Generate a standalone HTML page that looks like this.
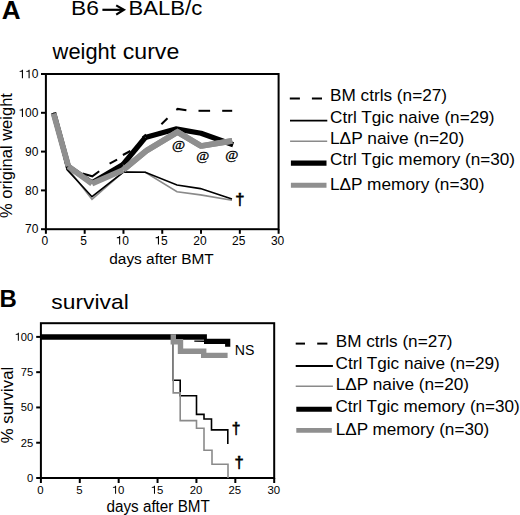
<!DOCTYPE html>
<html><head><meta charset="utf-8">
<style>
html,body{margin:0;padding:0;background:#fff;}
body{width:520px;height:515px;position:relative;overflow:hidden;}
svg{position:absolute;left:0;top:0;}
text{font-family:"Liberation Sans",sans-serif;fill:#000;}
</style></head><body>
<svg width="520" height="515" viewBox="0 0 520 515">
<text x="1.65" y="19.20" font-size="25.5" font-weight="bold" textLength="18.84" lengthAdjust="spacingAndGlyphs">A</text>
<text x="71.13" y="15.25" font-size="20.6" textLength="27.87" lengthAdjust="spacingAndGlyphs">B6</text>
<g stroke="#000" stroke-width="2.2" fill="none"><line x1="102.4" y1="9.8" x2="123.3" y2="9.8"/><polyline points="116.2,5.4 123.9,9.8 116.2,14.6"/></g>
<text x="128.59" y="15.00" font-size="20.6" textLength="73.70" lengthAdjust="spacingAndGlyphs">BALB/c</text>
<text x="52.63" y="59.10" font-size="21.6" textLength="63.13" lengthAdjust="spacingAndGlyphs">weight</text>
<text x="122.82" y="59.10" font-size="21.6" textLength="56.40" lengthAdjust="spacingAndGlyphs">curve</text>
<g stroke="#000" stroke-width="2" fill="none"><rect x="45.9" y="74.0" width="232.70" height="155.20"/><line x1="41" y1="74.00" x2="45.9" y2="74.00"/><line x1="41" y1="112.80" x2="45.9" y2="112.80"/><line x1="41" y1="151.60" x2="45.9" y2="151.60"/><line x1="41" y1="190.40" x2="45.9" y2="190.40"/><line x1="41" y1="229.20" x2="45.9" y2="229.20"/><line x1="45.90" y1="229.2" x2="45.90" y2="233.8"/><line x1="84.68" y1="229.2" x2="84.68" y2="233.8"/><line x1="123.47" y1="229.2" x2="123.47" y2="233.8"/><line x1="162.25" y1="229.2" x2="162.25" y2="233.8"/><line x1="201.03" y1="229.2" x2="201.03" y2="233.8"/><line x1="239.82" y1="229.2" x2="239.82" y2="233.8"/><line x1="278.60" y1="229.2" x2="278.60" y2="233.8"/></g>
<polygon points="22.97,78.15 22.97,69.71 22.13,69.71 21.83,70.29 21.29,70.77 19.61,71.01 19.61,71.79 21.89,71.79 21.89,78.15"/><polygon points="29.64,78.15 29.64,69.71 28.80,69.71 28.50,70.29 27.96,70.77 26.28,71.01 26.28,71.79 28.56,71.79 28.56,78.15"/><text x="31.69" y="78.15" font-size="12">0</text>
<polygon points="22.97,116.95 22.97,108.51 22.13,108.51 21.83,109.09 21.29,109.57 19.61,109.81 19.61,110.59 21.89,110.59 21.89,116.95"/><text x="25.02" y="116.95" font-size="12">0</text><text x="31.69" y="116.95" font-size="12">0</text>
<text x="25.02" y="155.75" font-size="12">9</text><text x="31.69" y="155.75" font-size="12">0</text>
<text x="25.02" y="194.55" font-size="12">8</text><text x="31.69" y="194.55" font-size="12">0</text>
<text x="25.02" y="233.35" font-size="12">7</text><text x="31.69" y="233.35" font-size="12">0</text>
<text x="41.56" y="244.50" font-size="12">0</text>
<text x="80.36" y="244.50" font-size="12">5</text>
<polygon points="120.19,244.50 120.19,236.06 119.35,236.06 119.05,236.64 118.51,237.12 116.83,237.36 116.83,238.14 119.11,238.14 119.11,244.50"/><text x="122.24" y="244.50" font-size="12">0</text>
<polygon points="158.99,244.50 158.99,236.06 158.15,236.06 157.85,236.64 157.31,237.12 155.63,237.36 155.63,238.14 157.91,238.14 157.91,244.50"/><text x="161.04" y="244.50" font-size="12">5</text>
<text x="193.29" y="244.50" font-size="12">2</text><text x="199.97" y="244.50" font-size="12">0</text>
<text x="232.09" y="244.50" font-size="12">2</text><text x="238.77" y="244.50" font-size="12">5</text>
<text x="270.93" y="244.50" font-size="12">3</text><text x="277.61" y="244.50" font-size="12">0</text>
<text x="109.25" y="263.90" font-size="15.5" textLength="104.50" lengthAdjust="spacingAndGlyphs">days after BMT</text>
<text transform="translate(12.20,217.89) rotate(-90)" font-size="16.3" textLength="124.81" lengthAdjust="spacingAndGlyphs">% original weight</text>
<g fill="none" stroke-linejoin="miter" stroke-linecap="butt">
<polyline stroke="#8a8a8a" stroke-width="1.6" points="53.6,112.8 67.5,168 92,199.4 123.4,172 145.3,172.3 177,191.7 200.5,194.9 232,200.2"/>
<polyline stroke="#000" stroke-width="1.6" points="53.6,112.8 67,169.5 92,196.7 123.4,172 145.3,172.3 177,185 200.5,188.6 232,199.1"/>
<g stroke="#000" stroke-width="2">
<polyline points="82.5,173.5 92.3,176.3 99.2,171.2"/>
<line x1="109.6" y1="163.7" x2="117.1" y2="159.6"/>
<line x1="122.9" y1="155" x2="130.4" y2="151"/>
<line x1="142.5" y1="137.5" x2="146" y2="134.5"/>
<line x1="161.4" y1="124.2" x2="167.5" y2="118.2"/>
<polyline points="176.3,109.8 177.7,108.9 186.4,110.2"/>
<line x1="198.5" y1="110.8" x2="210.1" y2="110.8"/>
<line x1="222.2" y1="110.8" x2="232.2" y2="110.8"/>
</g>
<g stroke="#000" stroke-width="5.2" stroke-linecap="butt"><line x1="53.6" y1="112.8" x2="68.4" y2="166.6"/><line x1="68.4" y1="166.6" x2="92" y2="182.8"/><line x1="92" y1="182.8" x2="123" y2="164.5"/><line x1="123" y1="164.5" x2="145.3" y2="137.5"/></g>
<polyline fill="none" stroke="#000" stroke-width="5.2" stroke-linejoin="round" points="145.3,137.5 175.8,128.9 201,133.2 233.2,144.8"/>
<g stroke="#8f8f8f" stroke-width="5.8" stroke-linecap="butt"><line x1="53.6" y1="113.5" x2="68.3" y2="166.3"/><line x1="68.3" y1="166.3" x2="92" y2="183.6"/><line x1="92" y1="183.6" x2="123.4" y2="169.8"/><line x1="123.4" y1="169.8" x2="146.3" y2="150.8"/><line x1="146.3" y1="150.8" x2="177.5" y2="131.9"/><line x1="177.5" y1="131.9" x2="201" y2="146"/><line x1="201" y1="146" x2="232.2" y2="140.8"/></g>
<polyline fill="none" stroke="#8f8f8f" stroke-width="5.8" stroke-linejoin="miter" points="123.4,169.8 146.3,150.8 177.5,131.9 201,146 232.2,140.8"/>
</g>
<text transform="translate(171.95,149.39) scale(1,0.927)" font-size="14.23" style="font-family:'Liberation Serif',serif" stroke="#000" stroke-width="0.35">@</text>
<text transform="translate(196.15,159.79) scale(1,0.936)" font-size="14.11" style="font-family:'Liberation Serif',serif" stroke="#000" stroke-width="0.35">@</text>
<text transform="translate(225.35,158.76) scale(1,0.903)" font-size="14.23" style="font-family:'Liberation Serif',serif" stroke="#000" stroke-width="0.35">@</text>
<text x="235.38" y="204.50" font-size="16.5" textLength="9.23" lengthAdjust="spacingAndGlyphs" stroke="#000" stroke-width="0.6">†</text>
<g fill="none">
<line x1="289.8" y1="98.5" x2="299.9" y2="98.5" stroke="#000" stroke-width="2"/>
<line x1="311.9" y1="98.5" x2="322" y2="98.5" stroke="#000" stroke-width="2"/>
<line x1="290" y1="120.6" x2="327.3" y2="120.6" stroke="#000" stroke-width="1.8"/>
<line x1="290.1" y1="141.2" x2="327.2" y2="141.2" stroke="#8a8a8a" stroke-width="1.6"/>
<line x1="290.9" y1="163.1" x2="326.5" y2="163.1" stroke="#000" stroke-width="5.4"/>
<line x1="290.9" y1="185.3" x2="326.5" y2="185.3" stroke="#8f8f8f" stroke-width="5"/>
</g>
<text x="329.99" y="101.00" font-size="16.4" textLength="117.08" lengthAdjust="spacingAndGlyphs">BM ctrls (n=27)</text>
<text x="330.13" y="123.30" font-size="16.4" textLength="164.43" lengthAdjust="spacingAndGlyphs">Ctrl Tgic naive (n=29)</text>
<text x="329.98" y="143.80" font-size="16.4" textLength="134.19" lengthAdjust="spacingAndGlyphs">LΔP naive (n=20)</text>
<text x="330.13" y="165.00" font-size="16.4" textLength="184.93" lengthAdjust="spacingAndGlyphs">Ctrl Tgic memory (n=30)</text>
<text x="329.99" y="189.70" font-size="16.4" textLength="154.48" lengthAdjust="spacingAndGlyphs">LΔP memory (n=30)</text>
<text x="-0.40" y="307.30" font-size="24.5" font-weight="bold" textLength="17.29" lengthAdjust="spacingAndGlyphs">B</text>
<text x="51.36" y="309.30" font-size="21" textLength="77.36" lengthAdjust="spacingAndGlyphs">survival</text>
<g stroke="#000" stroke-width="2" fill="none"><rect x="40.9" y="323.2" width="233.30" height="154.80"/><line x1="36.2" y1="336.90" x2="40.9" y2="336.90"/><line x1="36.2" y1="372.17" x2="40.9" y2="372.17"/><line x1="36.2" y1="407.45" x2="40.9" y2="407.45"/><line x1="36.2" y1="442.73" x2="40.9" y2="442.73"/><line x1="36.2" y1="478.00" x2="40.9" y2="478.00"/><line x1="40.90" y1="478.0" x2="40.90" y2="483"/><line x1="79.78" y1="478.0" x2="79.78" y2="483"/><line x1="118.67" y1="478.0" x2="118.67" y2="483"/><line x1="157.55" y1="478.0" x2="157.55" y2="483"/><line x1="196.43" y1="478.0" x2="196.43" y2="483"/><line x1="235.32" y1="478.0" x2="235.32" y2="483"/><line x1="274.20" y1="478.0" x2="274.20" y2="483"/></g>
<polygon points="18.86,340.70 18.86,332.83 18.08,332.83 17.80,333.36 17.29,333.81 15.73,334.04 15.73,334.76 17.85,334.76 17.85,340.70"/><text x="20.78" y="340.70" font-size="11.2">0</text><text x="27.01" y="340.70" font-size="11.2">0</text>
<text x="20.81" y="375.97" font-size="11.2">7</text><text x="27.04" y="375.97" font-size="11.2">5</text>
<text x="20.78" y="411.25" font-size="11.2">5</text><text x="27.01" y="411.25" font-size="11.2">0</text>
<text x="20.81" y="446.53" font-size="11.2">2</text><text x="27.04" y="446.53" font-size="11.2">5</text>
<text x="27.01" y="481.80" font-size="11.2">0</text>
<text x="37.33" y="493.80" font-size="11.4">0</text>
<text x="76.22" y="493.80" font-size="11.4">5</text>
<polygon points="116.10,493.80 116.10,485.79 115.31,485.79 115.02,486.33 114.51,486.79 112.91,487.02 112.91,487.76 115.08,487.76 115.08,493.80"/><text x="118.06" y="493.80" font-size="11.4">0</text>
<polygon points="155.00,493.80 155.00,485.79 154.21,485.79 153.92,486.33 153.41,486.79 151.81,487.02 151.81,487.76 153.98,487.76 153.98,493.80"/><text x="156.96" y="493.80" font-size="11.4">5</text>
<text x="189.63" y="493.80" font-size="11.4">2</text><text x="195.97" y="493.80" font-size="11.4">0</text>
<text x="228.53" y="493.80" font-size="11.4">2</text><text x="234.87" y="493.80" font-size="11.4">5</text>
<text x="267.47" y="493.80" font-size="11.4">3</text><text x="273.81" y="493.80" font-size="11.4">0</text>
<text x="106.46" y="511.60" font-size="15.6" textLength="103.39" lengthAdjust="spacingAndGlyphs">days after BMT</text>
<text transform="translate(12.60,443.30) rotate(-90)" font-size="16.2" textLength="76.52" lengthAdjust="spacingAndGlyphs">% survival</text>
<g fill="none" stroke-linejoin="miter" stroke-linecap="butt">
<polyline stroke="#000" stroke-width="1.6" points="41,336.9 173.2,336.9 173.2,380.2 180.2,380.2 180.2,395.7 196.5,395.7 196.5,414.4 204,414.4 204,419 211.5,419 211.5,429.9 227.8,429.9 227.8,444"/>
<polyline stroke="#8a8a8a" stroke-width="1.6" points="41,336.9 173.2,336.9 173.2,392.9 180.2,392.9 180.2,420.6 196.5,420.6 196.5,428.3 204,428.3 204,450.3 212,450.3 212,464.3 228,464.3 228,478"/>
<line stroke="#000" stroke-width="1.4" x1="194.3" y1="341.1" x2="205" y2="341.3"/>
<line stroke="#000" stroke-width="5.5" x1="41" y1="337.1" x2="206.9" y2="337.1"/>
<polyline stroke="#000" stroke-width="5.2" points="204,341.4 227.7,341.4 227.7,346.8"/>
<polyline stroke="#8f8f8f" stroke-width="5.4" points="173.3,334.3 173.3,341.8 180.5,341.8 180.5,351.2 203.7,351.2 203.7,355.4 227.6,355.4"/>
</g>
<text x="234.84" y="354.50" font-size="14" textLength="19.61" lengthAdjust="spacingAndGlyphs">NS</text>
<text x="231.85" y="433.50" font-size="16" textLength="8.70" lengthAdjust="spacingAndGlyphs" stroke="#000" stroke-width="0.6">†</text>
<text x="234.58" y="468.20" font-size="16" textLength="9.23" lengthAdjust="spacingAndGlyphs" stroke="#000" stroke-width="0.6">†</text>
<g fill="none">
<line x1="295.7" y1="343.6" x2="305" y2="343.6" stroke="#000" stroke-width="2"/>
<line x1="317.2" y1="343.6" x2="327.4" y2="343.6" stroke="#000" stroke-width="2"/>
<line x1="295.7" y1="366" x2="332.9" y2="366" stroke="#000" stroke-width="1.8"/>
<line x1="295.7" y1="386.2" x2="332.9" y2="386.2" stroke="#8a8a8a" stroke-width="1.6"/>
<line x1="296.3" y1="409.2" x2="331.8" y2="409.2" stroke="#000" stroke-width="5"/>
<line x1="296.3" y1="430.4" x2="331.8" y2="430.4" stroke="#8f8f8f" stroke-width="4.7"/>
</g>
<text x="335.69" y="346.70" font-size="16.4" textLength="116.77" lengthAdjust="spacingAndGlyphs">BM ctrls (n=27)</text>
<text x="335.53" y="368.90" font-size="16.4" textLength="164.33" lengthAdjust="spacingAndGlyphs">Ctrl Tgic naive (n=29)</text>
<text x="335.69" y="389.80" font-size="16.4" textLength="133.38" lengthAdjust="spacingAndGlyphs">LΔP naive (n=20)</text>
<text x="335.53" y="411.80" font-size="16.4" textLength="184.22" lengthAdjust="spacingAndGlyphs">Ctrl Tgic memory (n=30)</text>
<text x="335.70" y="434.70" font-size="16.4" textLength="153.46" lengthAdjust="spacingAndGlyphs">LΔP memory (n=30)</text>
</svg>
</body></html>
